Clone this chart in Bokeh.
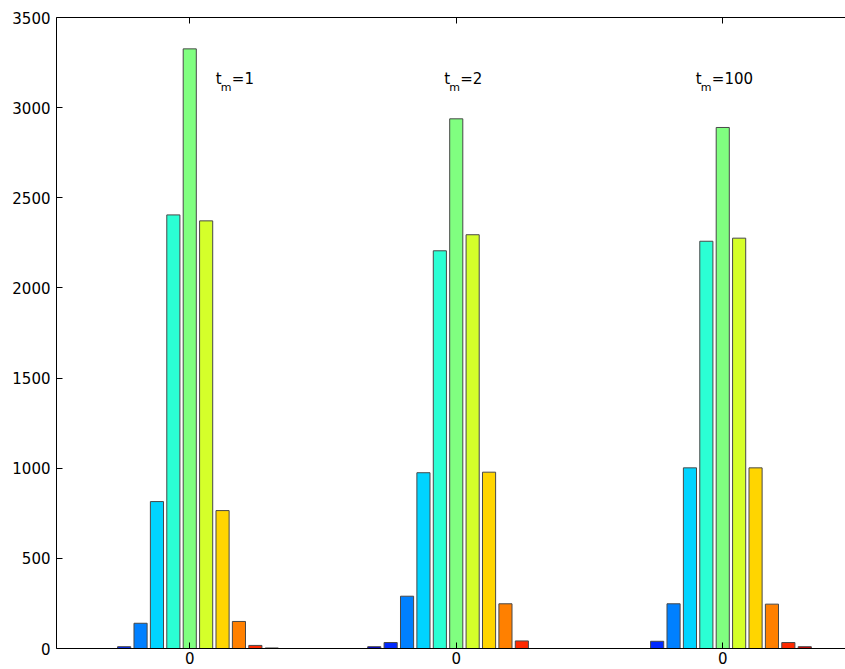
import numpy as np
from bokeh.plotting import figure
from bokeh.models import ColumnDataSource, FixedTicker, LinearAxis, Label, Range1d
from bokeh.embed import file_html
from bokeh.resources import INLINE

# ---------------- data ----------------
groups = [1, 2, 3]
group_tick_labels = ["0", "0", "0"]
tm_values = ["1", "2", "100"]
bins = list(range(13))
series_tm1 = [0, 0, 10, 140, 815, 2405, 3326, 2372, 765, 150, 17, 3, 0]
series_tm2 = [0, 10, 33, 290, 975, 2206, 2938, 2295, 978, 248, 42, 0, 0]
series_tm100 = [0, 0, 40, 248, 1002, 2259, 2890, 2276, 1002, 246, 33, 10, 0]
y_ticks = [0, 500, 1000, 1500, 2000, 2500, 3000, 3500]

all_series = [series_tm1, series_tm2, series_tm100]

# ---------------- style helpers ----------------
def jet(t):
    r = min(max(1.5 - abs(4 * t - 3), 0), 1)
    g = min(max(1.5 - abs(4 * t - 2), 0), 1)
    b = min(max(1.5 - abs(4 * t - 1), 0), 1)
    return "#%02x%02x%02x" % (int(round(r * 255)), int(round(g * 255)), int(round(b * 255)))

nb = len(bins)
group_w = 0.8
pitch = group_w / nb
bar_w = 0.8 * pitch
center = (nb - 1) / 2

xs, tops, cols = [], [], []
for g, ser in zip(groups, all_series):
    for k, v in zip(bins, ser):
        xs.append(g + (k - center) * pitch)
        tops.append(v)
        cols.append(jet(k / (nb - 1)))

src = ColumnDataSource(dict(x=xs, top=tops, color=cols))

FONT = "DejaVu Sans"

p = figure(width=845, height=669, output_backend="svg", toolbar_location=None,
           x_range=Range1d(0.5, 3.4606), y_range=Range1d(0, 3500),
           min_border_left=56, min_border_right=0, min_border_top=17,
           min_border_bottom=21, x_axis_location=None, y_axis_location=None)
p.outline_line_color = None
p.grid.visible = False
p.background_fill_color = "white"
p.border_fill_color = "white"

p.vbar(x="x", top="top", bottom=0, width=bar_w, fill_color="color",
       line_color="#484848", line_width=1, source=src)

# left axis
ya = LinearAxis(ticker=FixedTicker(ticks=y_ticks))
ya.major_tick_in = 6
ya.major_tick_out = 0
ya.minor_tick_line_color = None
ya.axis_line_color = "black"
ya.major_tick_line_color = "black"
ya.major_label_standoff = 6
ya.major_label_text_font = FONT
ya.major_label_text_font_size = "15px"
ya.major_label_text_color = "black"
p.add_layout(ya, "left")

# bottom axis
xa = LinearAxis(ticker=FixedTicker(ticks=groups))
xa.major_label_overrides = {g: lab for g, lab in zip(groups, group_tick_labels)}
xa.major_tick_in = 6
xa.major_tick_out = 0
xa.minor_tick_line_color = None
xa.axis_line_color = "black"
xa.major_tick_line_color = "black"
xa.major_label_standoff = 3
xa.major_label_text_font = FONT
xa.major_label_text_font_size = "15px"
xa.major_label_text_color = "black"
p.add_layout(xa, "below")

# top axis: frame line with inward (minor) ticks, no labels
ta = LinearAxis(ticker=FixedTicker(ticks=[], minor_ticks=groups))
ta.minor_tick_in = 6
ta.minor_tick_out = 0
ta.major_tick_in = 0
ta.major_tick_out = 0
ta.axis_line_color = "black"
ta.minor_tick_line_color = "black"
ta.major_label_standoff = 0
p.add_layout(ta, "above")

# annotations t_m = ...
label_x = [1.098, 1.955, 2.899]
for lx, tv in zip(label_x, tm_values):
    p.add_layout(Label(x=lx, y=3161, text="t", text_font=FONT, text_font_size="15px",
                       text_color="black", text_baseline="alphabetic"))
    p.add_layout(Label(x=lx, y=3114, x_offset=5, text="m", text_font=FONT,
                       text_font_size="11px", text_color="black", text_baseline="alphabetic"))
    p.add_layout(Label(x=lx, y=3161, x_offset=16, text="=" + tv, text_font=FONT,
                       text_font_size="15px", text_color="black", text_baseline="alphabetic"))

open("out.html", "w").write(file_html(p, INLINE))
